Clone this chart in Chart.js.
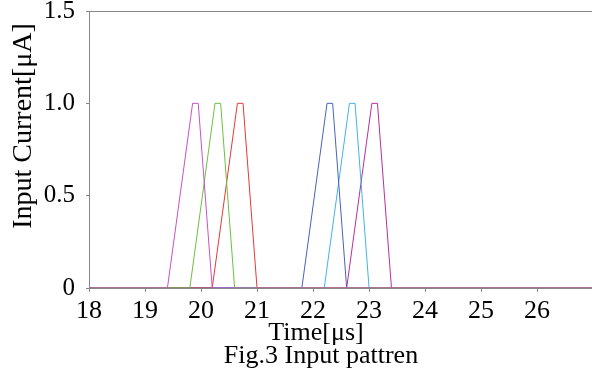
<!DOCTYPE html>
<html>
<head>
<meta charset="utf-8">
<script src="https://cdn.jsdelivr.net/npm/chart.js@4/dist/chart.umd.min.js"></script>
<style>
html,body{margin:0;padding:0;background:#fff;}
#wrap{position:relative;width:592px;height:376px;}
</style>
</head>
<body>
<div id="wrap"><canvas id="c" width="592" height="376"></canvas></div>
<script>
// ---- data ----
const xTickValues = [18, 19, 20, 21, 22, 23, 24, 25, 26];
const yTickValues = [0, 0.5, 1.0, 1.5];
const seriesLabels = ['Input 1', 'Input 2', 'Input 3', 'Input 4', 'Input 5', 'Input 6'];
const seriesColors = ['#c455c0', '#6cc040', '#e83838', '#4a62b8', '#42b4e6', '#b8309a'];
const times1 = [18, 19.4, 19.85, 19.95, 20.2, 27];
const times2 = [18, 19.8, 20.25, 20.35, 20.6, 27];
const times3 = [18, 20.2, 20.65, 20.75, 21.0, 27];
const times4 = [18, 21.8, 22.25, 22.35, 22.6, 27];
const times5 = [18, 22.2, 22.65, 22.75, 23.0, 27];
const times6 = [18, 22.6, 23.05, 23.15, 23.4, 27];
const currentPulse = [0, 0, 1, 1, 0, 0];
const xTitle = 'Time[μs]';
const yTitle = 'Input Current[μA]';
const caption = 'Fig.3 Input pattren';

const allTimes = [times1, times2, times3, times4, times5, times6];
const datasets = allTimes.map((t, i) => ({
  label: seriesLabels[i],
  data: t.map((x, j) => ({x: x, y: currentPulse[j]})),
  borderColor: seriesColors[i],
  backgroundColor: seriesColors[i],
  borderWidth: 1,
  pointRadius: 0,
  tension: 0,
  fill: false
}));

const FONT = '"Liberation Serif", "Times New Roman", serif';

const titlesPlugin = {
  id: 'titles',
  afterDraw(chart) {
    const ctx = chart.ctx;
    ctx.save();
    ctx.fillStyle = '#000';
    ctx.textAlign = 'center';
    ctx.textBaseline = 'alphabetic';
    ctx.font = '26px ' + FONT;
    ctx.fillText(xTitle, 316, 340);
    ctx.fillText(caption, 321, 363);
    ctx.translate(31, 126);
    ctx.rotate(-Math.PI / 2);
    ctx.font = '28px ' + FONT;
    ctx.fillText(yTitle, 0, 0);
    ctx.restore();
  }
};

new Chart(document.getElementById('c'), {
  type: 'line',
  data: { datasets: datasets },
  plugins: [titlesPlugin],
  options: {
    responsive: false,
    animation: false,
    layout: { padding: { top: 11, right: 0, left: 0, bottom: 0 } },
    plugins: { legend: { display: false }, tooltip: { enabled: false } },
    scales: {
      x: {
        type: 'linear',
        position: 'bottom',
        min: 18,
        max: 26.98,
        afterFit(s) { s.height = 88; s.paddingLeft = 0; s.paddingRight = 0; },
        afterBuildTicks(s) { s.ticks = xTickValues.map(v => ({value: v})); },
        ticks: {
          font: { family: FONT, size: 26 },
          color: '#000',
          padding: 4,
          maxRotation: 0,
          autoSkip: false,
          callback: v => String(v)
        },
        grid: { drawOnChartArea: false, drawTicks: true, tickLength: 4, color: '#888' },
        border: { display: true, color: '#888', width: 1 }
      },
      x2: {
        type: 'linear',
        position: 'top',
        min: 18,
        max: 26.98,
        afterFit(s) { s.height = 0; s.paddingLeft = 0; s.paddingRight = 0; },
        ticks: { display: false },
        grid: { display: false, drawTicks: false },
        border: { display: true, color: '#888', width: 1 }
      },
      y: {
        type: 'linear',
        min: 0,
        max: 1.5,
        afterFit(s) { s.width = 89; s.paddingTop = 0; s.paddingBottom = 0; },
        afterBuildTicks(s) { s.ticks = yTickValues.map(v => ({value: v})); },
        ticks: {
          font: { family: FONT, size: 25 },
          color: '#000',
          padding: 11,
          callback: v => (v === 0 ? '0' : Number(v).toFixed(1))
        },
        grid: { drawOnChartArea: false, drawTicks: true, tickLength: 3, color: '#888' },
        border: { display: true, color: '#888', width: 1 }
      }
    }
  }
});
</script>
</body>
</html>
